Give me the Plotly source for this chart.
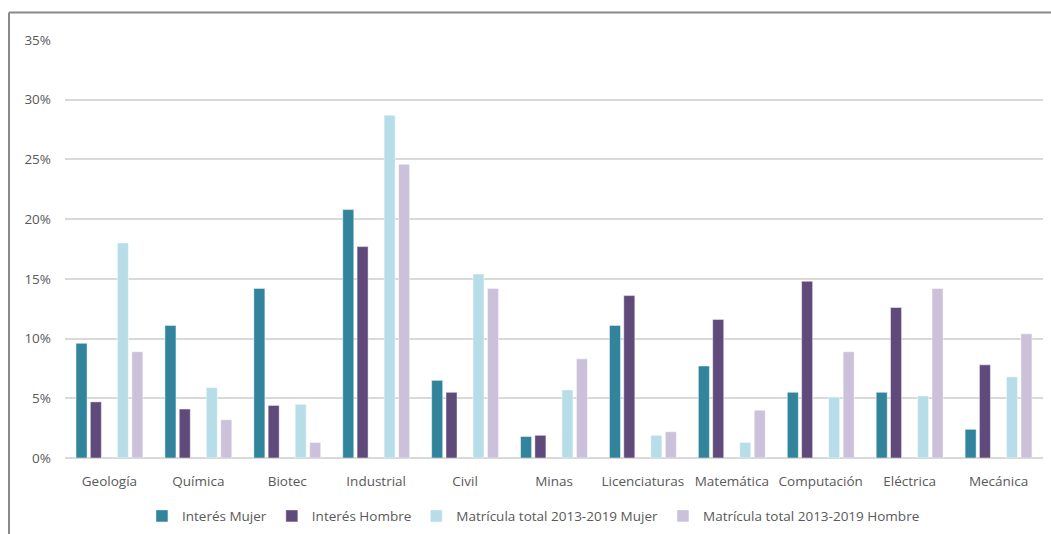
import plotly.graph_objects as go

categories = ["Geología", "Química", "Biotec", "Industrial", "Civil", "Minas",
              "Licenciaturas", "Matemática", "Computación", "Eléctrica", "Mecánica"]

interes_mujer = [9.6, 11.1, 14.2, 20.8, 6.5, 1.8, 11.1, 7.7, 5.5, 5.5, 2.4]
interes_hombre = [4.7, 4.1, 4.4, 17.7, 5.5, 1.9, 13.6, 11.6, 14.8, 12.6, 7.8]
matricula_mujer = [18.0, 5.9, 4.5, 28.7, 15.4, 5.7, 1.9, 1.3, 5.1, 5.2, 6.8]
matricula_hombre = [8.9, 3.2, 1.3, 24.6, 14.2, 8.3, 2.2, 4.0, 8.9, 14.2, 10.4]

series_names = ["Interés Mujer", "Interés Hombre",
                "Matrícula total 2013-2019 Mujer", "Matrícula total 2013-2019 Hombre"]
series_values = [interes_mujer, interes_hombre, matricula_mujer, matricula_hombre]
colors = ["#31849B", "#604A7B", "#B7DEE8", "#CCC1DA"]
offsets = [-0.376, -0.215, 0.089, 0.252]
bar_width = 0.124

FONT = "Open Sans, Liberation Sans, Arial, sans-serif"
TEXT = "#595959"

fig = go.Figure()
for name, vals, col, off in zip(series_names, series_values, colors, offsets):
    fig.add_trace(go.Bar(
        x=categories, y=[v / 100 for v in vals], name=name,
        marker=dict(color=col, line=dict(color="rgba(255,255,255,0.45)", width=1)),
        width=bar_width, offset=off,
    ))

fig.update_layout(
    width=1051, height=534,
    barmode="overlay",
    paper_bgcolor="white", plot_bgcolor="white",
    margin=dict(l=65, r=8, t=40, b=76, autoexpand=False),
    font=dict(family=FONT, size=13.5, color=TEXT),
    showlegend=True,
    legend=dict(orientation="h", x=0.479, xanchor="center", y=-0.139, yanchor="middle",
                font=dict(family=FONT, size=13.5, color=TEXT), traceorder="normal"),
    xaxis=dict(showgrid=False, showline=False, ticks="", ticklabelstandoff=13,
               automargin=False,
               tickfont=dict(family=FONT, size=13.5, color=TEXT)),
    yaxis=dict(range=[0, 0.35], dtick=0.05, tickformat=".0%", showgrid=True,
               gridcolor="#D9D9D9", gridwidth=1.5, zeroline=True, zerolinecolor="#D9D9D9",
               zerolinewidth=2, showline=False, ticks="", ticklabelstandoff=13,
               automargin=False,
               tickfont=dict(family=FONT, size=13.5, color=TEXT)),
)

# outer frame remnants (cropped chart border)
fig.add_shape(type="line", xref="paper", yref="paper",
              x0=(9 - 65) / 978, x1=(1051 - 65) / 978 + 0.01,
              y0=(458 - 12.5) / 418, y1=(458 - 12.5) / 418,
              line=dict(color="#8A8A8A", width=2))
fig.add_shape(type="line", xref="paper", yref="paper",
              x0=(9 - 65) / 978, x1=(9 - 65) / 978,
              y0=(458 - 12.5) / 418, y1=(458 - 540) / 418,
              line=dict(color="#8A8A8A", width=2))

fig.write_html("out.html")
